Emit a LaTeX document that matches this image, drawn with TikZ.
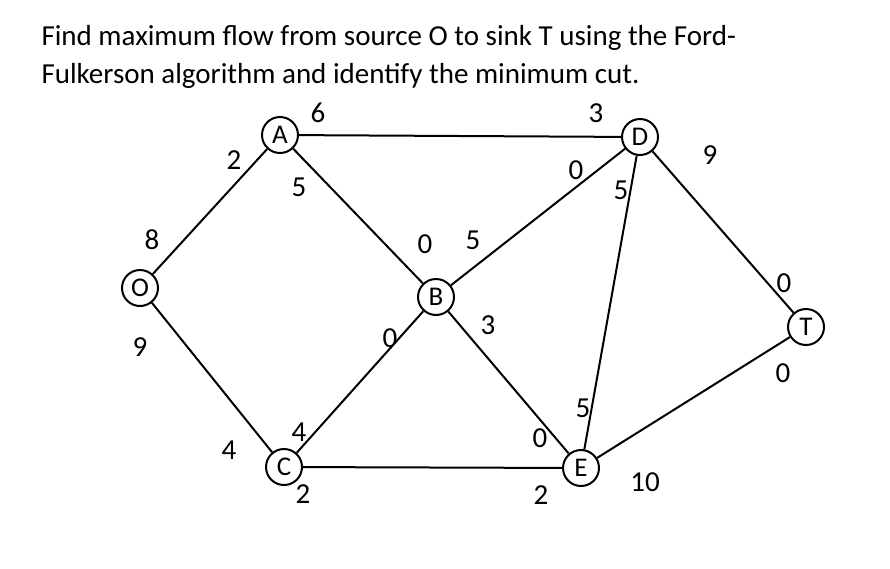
\documentclass[tikz,border=0pt]{standalone}
\usepackage{fontspec}
\setmainfont{Carlito}
\begin{document}
\begin{tikzpicture}[x=1pt,y=-1pt,
  v/.style={circle,draw,line width=2pt,minimum size=36pt,inner sep=0pt,font=\fontsize{27}{30}\selectfont},
  e/.style={line width=2pt},
  l/.style={font=\fontsize{29}{30}\selectfont,inner sep=0pt}]
\useasboundingbox (0,0) rectangle (890,568);
\node[anchor=west,font=\fontsize{29}{32}\selectfont] (t1) at (38,38) {Find maximum flow from source O to sink T using the Ford-};
\node[anchor=west,font=\fontsize{29}{32}\selectfont] (t2) at (38,76) {Fulkerson algorithm and identify the minimum cut.};
\node[v] (O) at (140,288) {O};
\node[v] (A) at (280,135) {A};
\node[v] (B) at (436,297) {B};
\node[v] (C) at (284,467) {C};
\node[v] (D) at (640,137) {D};
\node[v] (E) at (581,468) {E};
\node[v] (T) at (806,327) {T};
\draw[e] (O)--(A); \draw[e] (O)--(C); \draw[e] (A)--(D); \draw[e] (A)--(B);
\draw[e] (B)--(D); \draw[e] (B)--(C); \draw[e] (B)--(E); \draw[e] (C)--(E);
\draw[e] (D)--(E); \draw[e] (D)--(T); \draw[e] (E)--(T);
\node[l] (l1) at (318,113) {6};
\node[l] (l2) at (596,113) {3};
\node[l] (l3) at (234,160) {2};
\node[l] (l4) at (299,187) {5};
\node[l] (l5) at (152,240) {8};
\node[l] (l6) at (140,347) {9};
\node[l] (l7) at (229,450) {4};
\node[l] (l8) at (299,432) {4};
\node[l] (l9) at (303,494) {2};
\node[l] (l10) at (425,244) {0};
\node[l] (l11) at (473,240) {5};
\node[l] (l12) at (390,338) {0};
\node[l] (l13) at (488,325) {3};
\node[l] (l14) at (576,170) {0};
\node[l] (l15) at (621,190) {5};
\node[l] (l16) at (710,155) {9};
\node[l] (l17) at (784,283) {0};
\node[l] (l18) at (783,373) {0};
\node[l] (l19) at (583,408) {5};
\node[l] (l20) at (540,438) {0};
\node[l] (l21) at (541,495) {2};
\node[l] (l22) at (645,482) {10};
\end{tikzpicture}
\end{document}
